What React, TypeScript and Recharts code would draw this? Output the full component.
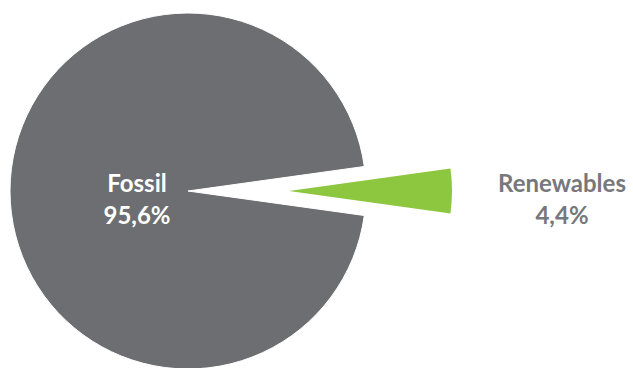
import {FC} from "react";
import {PieChart, Pie, Cell} from 'recharts';

const sources: string[] = ['Fossil', 'Renewables'];
const shares: number[] = [95.6, 4.4];

const GRAY = '#6d6e71';
const GREEN = '#8dc63f';

const data = sources.map((name, i) => ({name, value: shares[i]}));

// half of the renewables wedge, so that it is centred on 3 o'clock
const half = shares[1] / 100 * 360 / 2;

const fmt = (v: number): string => v.toFixed(1).replace('.', ',') + '%';

const RAD = Math.PI / 180;

const makeLabel = (show: number, dist: number, color: string) => (props: any) => {
    const {cx, cy, midAngle, index, name, value} = props;
    if (index !== show) return null;
    const x = cx + dist * Math.cos(-midAngle * RAD);
    const y = cy + dist * Math.sin(-midAngle * RAD);
    return (
        <text x={x} y={y} textAnchor="middle" fill={color}
              style={{fontFamily: 'Lato', fontWeight: 700, fontSize: 24}}>
            <tspan x={x} dy={1}>{name}</tspan>
            <tspan x={x} dy={32}>{fmt(value)}</tspan>
        </text>
    );
};

const App: FC = () => {
    return (
        <div style={{position: 'absolute', left: 0, top: 0, background: '#fff'}}>
            <PieChart width={633} height={368} margin={{top: 0, right: 0, bottom: 0, left: 0}}>
                <Pie data={data} dataKey="value" nameKey="name" cx={188} cy={191} outerRadius={178}
                     startAngle={half} endAngle={360 + half} stroke="#fff" strokeWidth={1}
                     labelLine={false} label={makeLabel(0, 51, '#fff')} isAnimationActive={false}>
                    <Cell fill={GRAY}/>
                    <Cell fill="none" stroke="none"/>
                </Pie>
                <Pie data={data} dataKey="value" nameKey="name" cx={289} cy={191} outerRadius={163}
                     startAngle={half} endAngle={360 + half}
                     labelLine={false} label={makeLabel(1, 273, '#77787b')} isAnimationActive={false}>
                    <Cell fill="none" stroke="none"/>
                    <Cell fill={GREEN} stroke="none"/>
                </Pie>
            </PieChart>
        </div>
    );
};

export default App;
